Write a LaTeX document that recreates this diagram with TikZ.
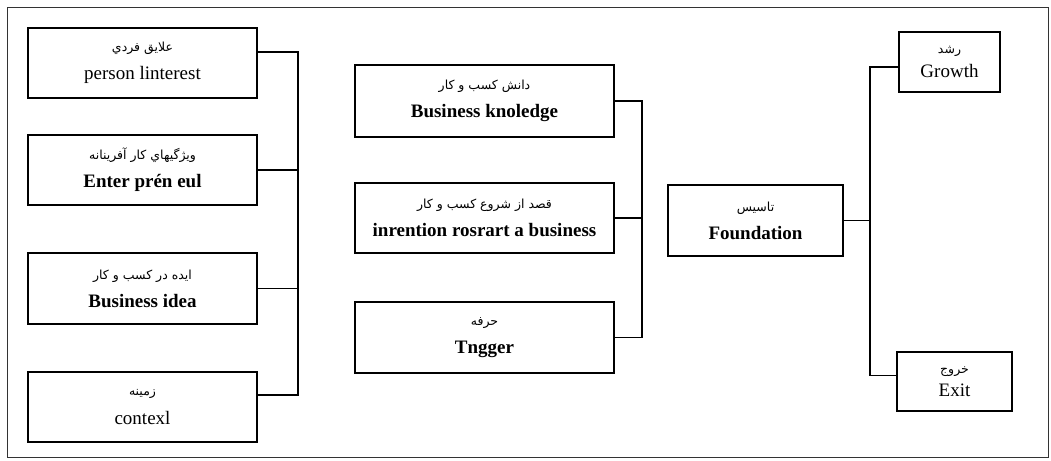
\documentclass[tikz,border=0pt]{standalone}
\usepackage{fontspec}
\setmainfont{Liberation Serif}
\newfontfamily\arabicfont[Script=Arabic]{DejaVu Sans}
\TeXXeTstate=1
\usepackage{tikz}
\usetikzlibrary{calc}

\newcommand{\fa}[1]{{\arabicfont\fontsize{12.5}{13}\selectfont\beginR #1\endR}}
\newcommand{\en}[1]{{\fontsize{19}{22}\selectfont #1}}

\tikzset{
  box/.style={draw, line width=1.3pt, inner sep=0pt, align=center},
  link/.style={line width=1.1pt},
}

\begin{document}
\begin{tikzpicture}[x=1pt, y=-1pt]
  \useasboundingbox (0,0) rectangle (1051,460);
  \draw[line width=0.8pt, black!80] (7,7) rectangle (1048,457);

  % left column
  \node[box, minimum width=229pt, minimum height=70pt] (pint) at (142.5,63)
    {\fa{علايق فردي}\\[11pt]\en{person linterest}};
  \node[box, minimum width=229pt, minimum height=70pt] (ent) at (142.5,170)
    {\fa{ويژگيهاي كار آفرينانه}\\[11pt]\en{\bfseries Enter prén eul}};
  \node[box, minimum width=229pt, minimum height=71pt] (idea) at (142.5,288.5)
    {\fa{ايده در كسب و كار}\\[11pt]\en{\bfseries Business idea}};
  \node[box, minimum width=229pt, minimum height=70pt] (ctx) at (142.5,407)
    {\fa{زمينه}\\[11pt]\en{contexl}};

  % middle column
  \node[box, minimum width=259pt, minimum height=72pt] (know) at (484.5,101)
    {\fa{دانش كسب و كار}\\[11pt]\en{\bfseries Business knoledge}};
  \node[box, minimum width=259pt, minimum height=70pt] (intent) at (484.5,218)
    {\fa{قصد از شروع كسب و كار}\\[11pt]\en{\bfseries inrention rosrart a business}};
  \node[box, minimum width=259pt, minimum height=71pt] (trig) at (484.5,337.5)
    {\fa{حرفه}\\[11pt]\en{\bfseries Tngger}};

  % right column
  \node[box, minimum width=175pt, minimum height=71pt] (found) at (755.5,220.5)
    {\fa{تاسيس}\\[11pt]\en{\bfseries Foundation}};
  \node[box, minimum width=101pt, minimum height=60pt] (grow) at (949.5,62)
    {\fa{رشد}\\[6pt]\en{Growth}};
  \node[box, minimum width=115pt, minimum height=59pt] (exit) at (954.5,381.5)
    {\fa{خروج}\\[6pt]\en{Exit}};

  % buses
  \coordinate (lbus) at (298,200);
  \coordinate (mbus) at (642,200);
  \coordinate (rbus) at (870,200);

  \draw[link] ([yshift=11pt]pint.east) -| (lbus) |- ([yshift=12pt]ctx.east);
  \draw[link] (ent.east) -- (ent.east -| lbus);
  \draw[link] (idea.east) -- (idea.east -| lbus);

  \draw[link] (know.east) -| (mbus) |- (trig.east);
  \draw[link] (intent.east) -- (intent.east -| mbus);

  \draw[link] ([yshift=-5pt]grow.west) -| (rbus) |- ([yshift=6pt]exit.west);
  \draw[link] (found.east) -- (found.east -| rbus);
\end{tikzpicture}
\end{document}
